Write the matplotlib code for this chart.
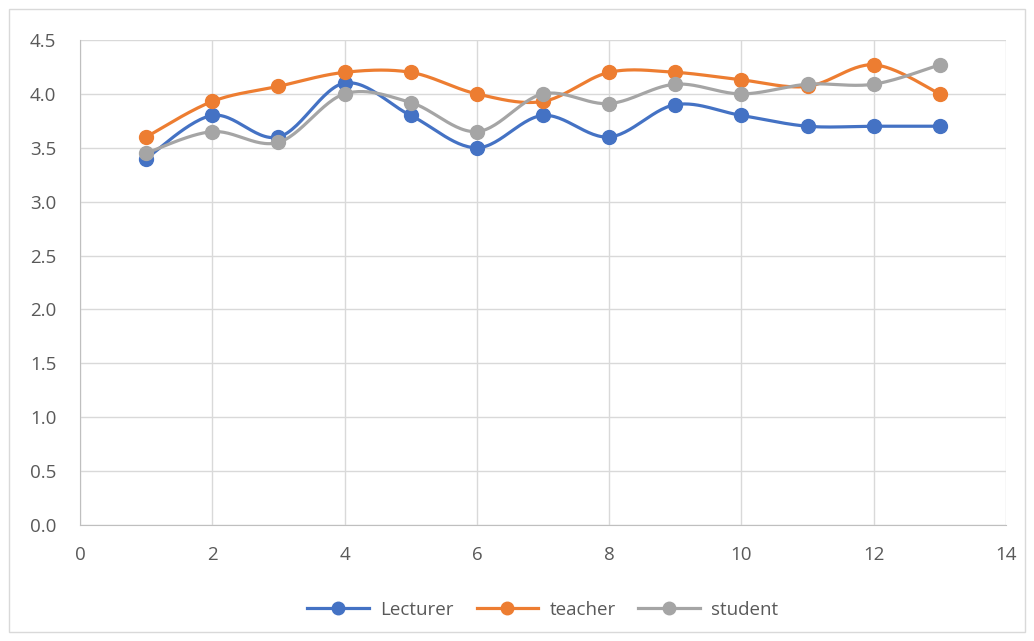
import numpy as np
import matplotlib.pyplot as plt
from matplotlib.patches import Rectangle

# values
x = [1, 2, 3, 4, 5, 6, 7, 8, 9, 10, 11, 12, 13]
lecturer = [3.4, 3.8, 3.6, 4.1, 3.8, 3.5, 3.8, 3.6, 3.9, 3.8, 3.7, 3.7, 3.7]
teacher = [3.6, 3.93, 4.07, 4.2, 4.2, 4.0, 3.93, 4.2, 4.2, 4.13, 4.07, 4.27, 4.0]
student = [3.45, 3.65, 3.55, 4.0, 3.92, 3.65, 4.0, 3.91, 4.09, 4.0, 4.09, 4.09, 4.27]
names = ['Lecturer', 'teacher', 'student']
colors = ['#4472C4', '#ED7D31', '#A5A5A5']


def smooth(xs, ys, n=30):
    # excel style smoothed line (catmull-rom as bezier segments)
    xs = np.asarray(xs, float)
    ys = np.asarray(ys, float)
    px = np.concatenate([[xs[0]], xs, [xs[-1]]])
    py = np.concatenate([[ys[0]], ys, [ys[-1]]])
    t = np.linspace(0, 1, n)[:, None]
    outx, outy = [], []
    for i in range(1, len(px) - 2):
        p0 = np.array([px[i], py[i]])
        p3 = np.array([px[i + 1], py[i + 1]])
        c1 = p0 + (np.array([px[i + 1], py[i + 1]]) - np.array([px[i - 1], py[i - 1]])) / 6
        c2 = p3 - (np.array([px[i + 2], py[i + 2]]) - np.array([px[i], py[i]])) / 6
        b = ((1 - t) ** 3) * p0 + 3 * ((1 - t) ** 2) * t * c1 + 3 * (1 - t) * t ** 2 * c2 + t ** 3 * p3
        outx.extend(b[:, 0])
        outy.extend(b[:, 1])
    return outx, outy


plt.rcParams['font.family'] = ['Open Sans', 'DejaVu Sans']
fig = plt.figure(figsize=(10.34, 6.41), dpi=100)
fig.patches.append(Rectangle((9 / 1034, 9 / 641), 1 - 18 / 1034, 1 - 18 / 641,
                             transform=fig.transFigure, fill=False,
                             edgecolor='#d9d9d9', linewidth=1))
ax = fig.add_axes([80 / 1034, 1 - 525 / 641, 926 / 1034, 485 / 641])

for ys, name, c in zip([lecturer, teacher, student], names, colors):
    sx, sy = smooth(x, ys)
    ax.plot(sx, sy, color=c, linewidth=2.3, solid_capstyle='round')
    ax.plot(x, ys, 'o', color=c, markersize=10)
    ax.plot([], [], '-o', color=c, linewidth=2.3, markersize=9, label=name)

ax.set_xlim(0, 14)
ax.set_ylim(0, 4.5)
ax.set_xticks(range(0, 15, 2))
ax.set_yticks(np.arange(0, 4.51, 0.5))
ax.set_yticklabels([f'{v:.1f}' for v in np.arange(0, 4.51, 0.5)])
ax.grid(True, color='#d9d9d9', linewidth=1)
ax.set_axisbelow(True)
for s in ['top', 'right']:
    ax.spines[s].set_visible(False)
for s in ['left', 'bottom']:
    ax.spines[s].set_color('#bfbfbf')
ax.tick_params(length=0, colors='#595959', labelsize=13.5)
ax.tick_params(axis='x', pad=15)
ax.tick_params(axis='y', pad=17)

ax.legend(loc='center', bbox_to_anchor=(0.5, -0.175), ncol=3, frameon=False,
          fontsize=13.5, labelcolor='#595959', handlelength=3.3,
          handletextpad=0.6, columnspacing=1.2)

fig.savefig('out.png', dpi=100)
